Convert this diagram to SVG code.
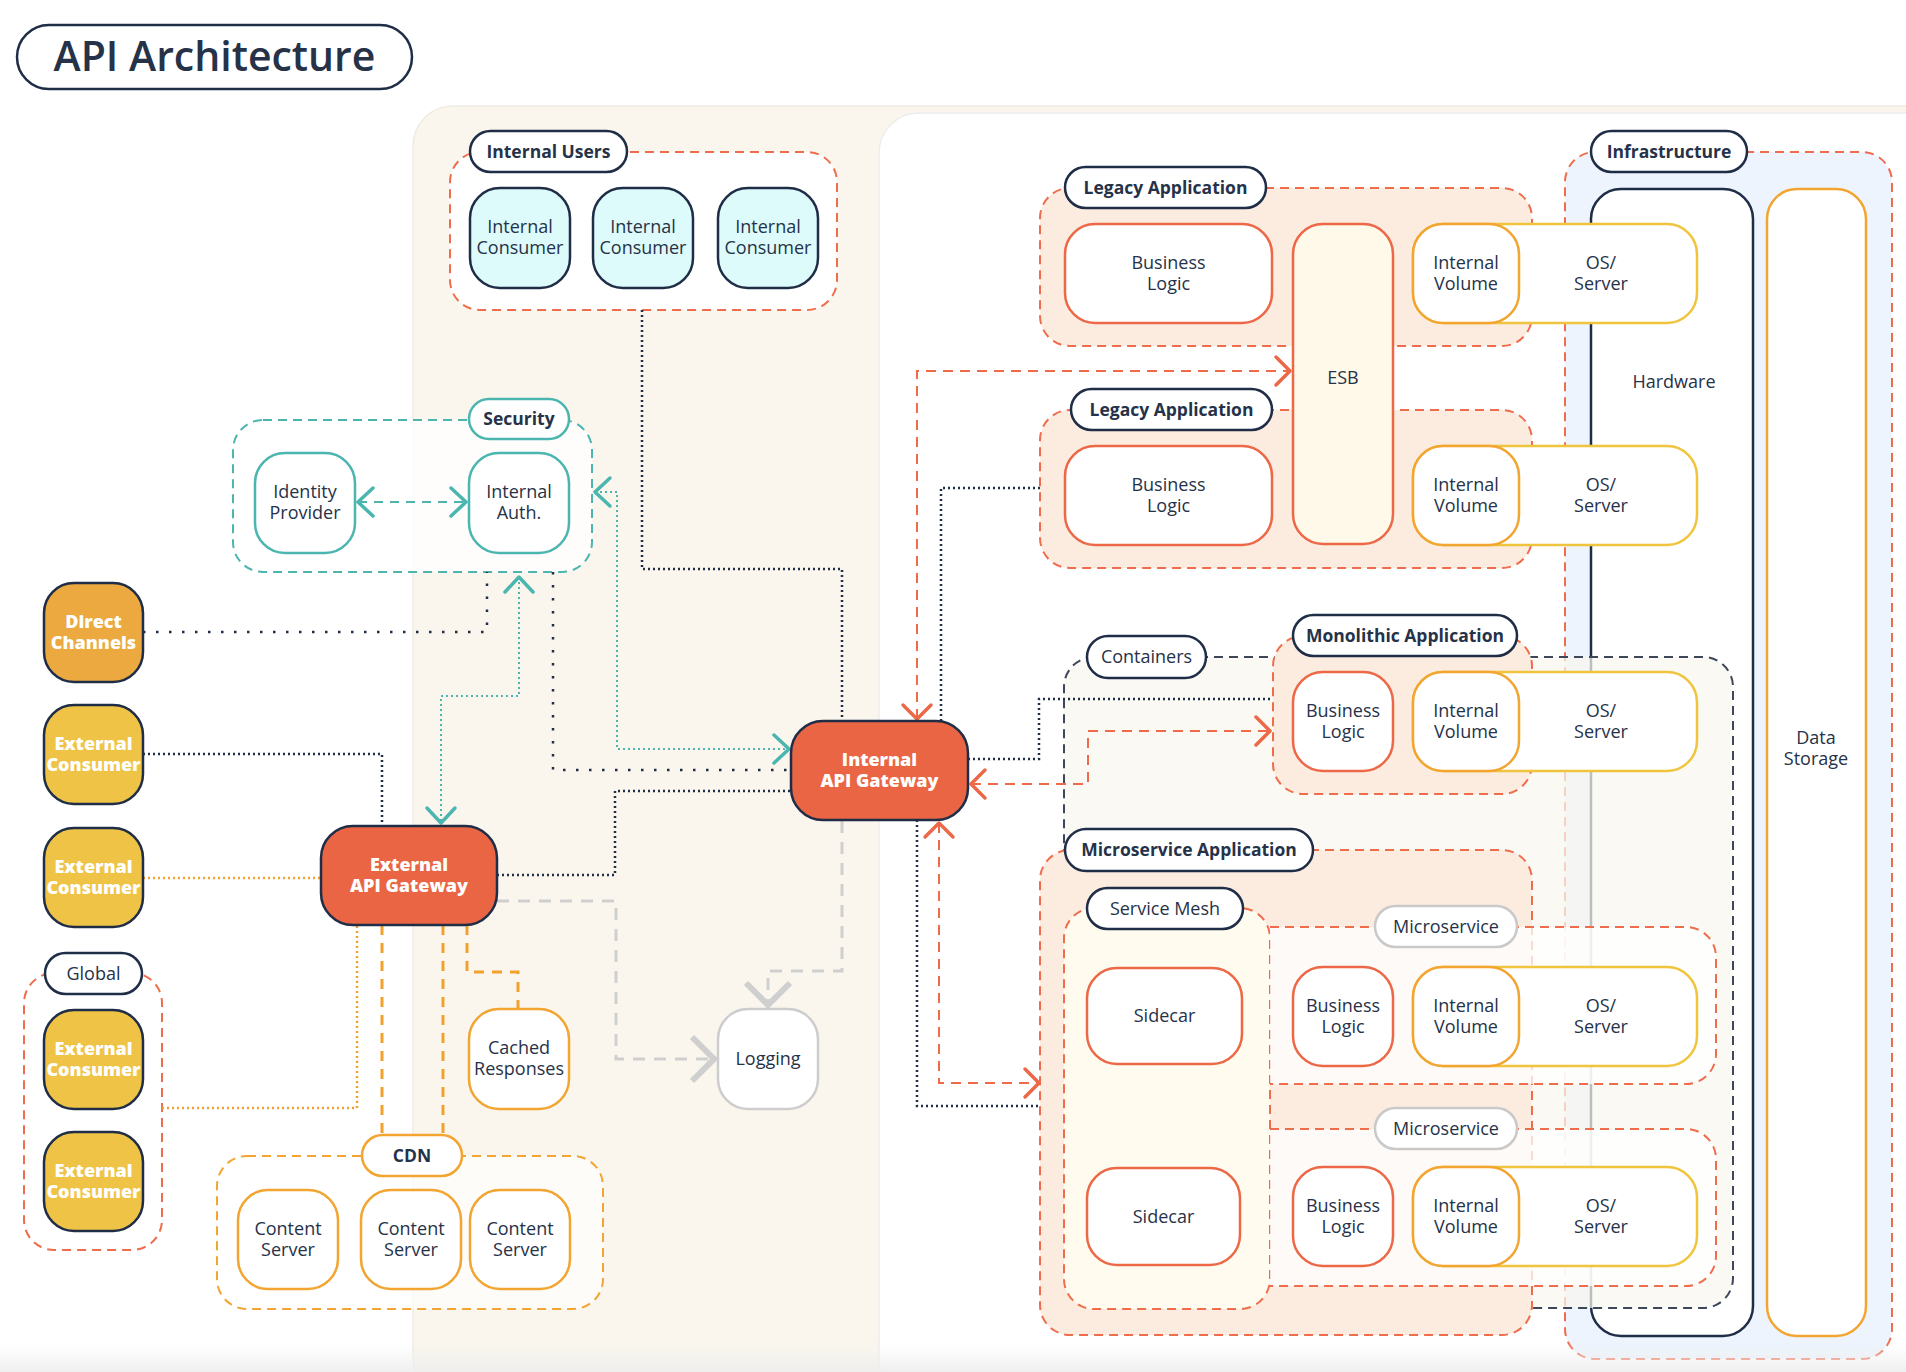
<svg xmlns="http://www.w3.org/2000/svg" width="1906" height="1372" viewBox="0 0 1906 1372">
<defs>
<style>
.t{font-family:"Open Sans","Noto Sans","DejaVu Sans",sans-serif;font-size:18px;fill:#263248;text-anchor:middle}
.b{font-weight:700;font-size:17.5px}
.w{fill:#ffffff;font-weight:800}
.pill{fill:#ffffff;stroke:#1F2D47;stroke-width:2.5}
.gr{stroke:#EF6D4C;stroke-width:2;stroke-dasharray:9 6}
.peach{fill:#FCEBDF}
.n{stroke-width:2.5}
.navy{stroke:#1F2D47}
.teal{stroke:#4BB5B0}
.red{stroke:#EC6847}
.org{stroke:#F2A531}
.yel{stroke:#F0C43C}
.gry{stroke:#CDCDCD}
.cd{fill:none;stroke:#1F2D47;stroke-width:2.5;stroke-dasharray:2 3}
.cs{fill:none;stroke:#1F2D47;stroke-width:2.5;stroke-dasharray:2.5 10.5}
.ct{fill:none;stroke:#4BB5B0;stroke-width:2;stroke-dasharray:2 3}
.ctd{fill:none;stroke:#4BB5B0;stroke-width:2;stroke-dasharray:9 7}
.co{fill:none;stroke:#F2A12E;stroke-width:2.5;stroke-dasharray:2 3}
.cod{fill:none;stroke:#F2A12E;stroke-width:3;stroke-dasharray:10 8}
.cg{fill:none;stroke:#CFCFCF;stroke-width:3;stroke-dasharray:12 9}
.cr{fill:none;stroke:#EE6A48;stroke-width:2;stroke-dasharray:10 7}
</style>
<marker id="aT" markerUnits="userSpaceOnUse" markerWidth="40" markerHeight="40" viewBox="-20 -20 40 40" refX="0" refY="0" orient="auto-start-reverse" overflow="visible"><path d="M-15,-14 L0,0 L-15,14" fill="none" stroke="#4BB5B0" stroke-width="3.5" stroke-dasharray="none" stroke-linecap="round" stroke-linejoin="round"/></marker>
<marker id="aR" markerUnits="userSpaceOnUse" markerWidth="40" markerHeight="40" viewBox="-20 -20 40 40" refX="0" refY="0" orient="auto-start-reverse" overflow="visible"><path d="M-14,-14 L0,0 L-14,14" fill="none" stroke="#EC6847" stroke-width="3.5" stroke-dasharray="none" stroke-linecap="round" stroke-linejoin="round"/></marker>
<marker id="aG" markerUnits="userSpaceOnUse" markerWidth="60" markerHeight="60" viewBox="-30 -30 60 60" refX="0" refY="0" orient="auto" overflow="visible"><path d="M-24,-22 L-2,0 L-24,22" fill="none" stroke="#CFCFCF" stroke-width="6" stroke-dasharray="none" stroke-linecap="butt" stroke-linejoin="miter"/></marker>
<linearGradient id="fade" x1="0" y1="0" x2="0" y2="1"><stop offset="0" stop-color="#F2F2F2" stop-opacity="0"/><stop offset="1" stop-color="#EDEDED" stop-opacity="0.9"/></linearGradient>
</defs>
<rect x="0" y="0" width="1906" height="1372" fill="#ffffff"/>
<g id="panels">
<rect x="413" y="106" width="1540" height="1290" rx="40" fill="#FAF6ED" stroke="#EFEBE2" stroke-width="1.5"/>
<rect x="879" y="113" width="1070" height="1290" rx="40" fill="#ffffff" stroke="#EDEDED" stroke-width="1.5"/>
</g>
<g id="title">
<rect x="17" y="25" width="395" height="64" rx="32" fill="#ffffff" stroke="#1F2D47" stroke-width="2.5"/>
<text class="t" x="214.5" y="71" style="font-size:41px;font-weight:600">API Architecture</text>
</g>

<!-- group containers -->
<g id="group-internal-users"><rect x="450" y="152" width="387" height="158" rx="30" fill="#ffffff" class="gr"/></g>
<g id="group-security"><rect x="233" y="420" width="359" height="152" rx="30" fill="#ffffff" fill-opacity="0.8" stroke="#4BB5B0" stroke-width="2" stroke-dasharray="9 6"/></g>
<g id="group-global"><rect x="24" y="973" width="138" height="277" rx="30" fill="none" class="gr"/></g>
<g id="group-cdn"><rect x="217" y="1156" width="386" height="153" rx="30" fill="#ffffff" fill-opacity="0.65" stroke="#F2A531" stroke-width="2" stroke-dasharray="9 6"/></g>
<g id="group-infrastructure"><rect x="1565" y="152" width="327" height="1207" rx="30" fill="#EDF4FD" class="gr"/></g>
<g id="hardware"><rect x="1591" y="189" width="162" height="1147" rx="30" fill="#ffffff" class="n navy"/><text class="t" x="1674" y="388">Hardware</text></g>
<g id="data-storage"><rect x="1767" y="189" width="99" height="1147" rx="30" fill="#ffffff" class="n org"/><text class="t" x="1816" y="744">Data</text><text class="t" x="1816" y="765">Storage</text></g>
<g id="group-containers"><rect x="1064" y="657" width="669" height="651" rx="30" fill="#F8F6F0" fill-opacity="0.72" stroke="#3C475A" stroke-width="2" stroke-dasharray="9 6"/></g>
<g id="group-legacy-1"><rect x="1040" y="188" width="492" height="158" rx="30" class="peach gr"/></g>
<g id="group-legacy-2"><rect x="1040" y="410" width="492" height="158" rx="30" class="peach gr"/></g>
<g id="group-monolithic"><rect x="1273" y="636" width="259" height="158" rx="30" class="peach gr"/></g>
<g id="group-microservice-app"><rect x="1040" y="850" width="492" height="485" rx="30" class="peach gr"/></g>
<g id="group-service-mesh"><rect x="1064" y="908" width="206" height="401" rx="30" fill="#FFFBEE" class="gr"/></g>
<g id="group-microservice-1"><path d="M1270,927 H1686 A30,30 0 0 1 1716,957 V1054 A30,30 0 0 1 1686,1084 H1270" fill="#ffffff" fill-opacity="0.75" class="gr"/></g>
<g id="group-microservice-2"><path d="M1270,1129 H1686 A30,30 0 0 1 1716,1159 V1256 A30,30 0 0 1 1686,1286 H1270" fill="#ffffff" fill-opacity="0.75" class="gr"/></g>

<!-- connectors -->
<g id="connectors">
<path class="cd" d="M642,310 V569 H842 V721"/>
<path class="cs" d="M143,632 H487 V572"/>
<path class="ct" d="M519,577 V696 H441 V823" marker-start="url(#aT)" marker-end="url(#aT)"/>
<path class="ct" d="M595,492 H617 V749 H789" marker-start="url(#aT)" marker-end="url(#aT)"/>
<path class="ctd" d="M358,502 H466" marker-start="url(#aT)" marker-end="url(#aT)"/>
<path class="cs" d="M553,572 V770 H791"/>
<path class="cd" d="M143,754 H382 V826"/>
<path class="co" d="M143,878 H321"/>
<path class="co" d="M162,1108 H357 V925"/>
<path class="cod" d="M382,925 V1135"/>
<path class="cod" d="M443,925 V1135"/>
<path class="cod" d="M467,925 V972 H518 V1009"/>
<path class="cg" d="M497,901 H616 V1059 H716" marker-end="url(#aG)"/>
<path class="cg" d="M842,821 V971 H768 V1007" marker-end="url(#aG)"/>
<path class="cd" d="M497,875 H615 V791 H791"/>
<path class="cr" d="M917,719 V371 H1290" marker-start="url(#aR)" marker-end="url(#aR)"/>
<path class="cd" d="M941,721 V488 H1040"/>
<path class="cd" d="M968,759 H1039 V699 H1273"/>
<path class="cr" d="M971,784 H1088 V731 H1270" marker-start="url(#aR)" marker-end="url(#aR)"/>
<path class="cr" d="M939,823 V1083 H1039" marker-start="url(#aR)" marker-end="url(#aR)"/>
<path class="cd" d="M917,820 V1106 H1040"/>
</g>

<!-- pills (group labels) -->
<g id="label-internal-users"><rect x="470" y="131" width="157" height="41" rx="20.5" class="pill"/><text class="t b" x="548.5" y="157.5">Internal Users</text></g>
<g id="label-security"><rect x="469" y="399" width="100" height="40" rx="20" class="pill" style="stroke:#4BB5B0"/><text class="t b" x="519" y="425">Security</text></g>
<g id="label-global"><rect x="45" y="953" width="97" height="41" rx="20.5" class="pill"/><text class="t" x="93.5" y="980">Global</text></g>
<g id="label-cdn"><rect x="362" y="1135" width="100" height="41" rx="20.5" class="pill" style="stroke:#F2A531"/><text class="t b" x="412" y="1161.5">CDN</text></g>
<g id="label-legacy-1"><rect x="1065" y="167" width="201" height="41" rx="20.5" class="pill"/><text class="t b" x="1165.5" y="193.5">Legacy Application</text></g>
<g id="label-legacy-2"><rect x="1071" y="389" width="201" height="41" rx="20.5" class="pill"/><text class="t b" x="1171.5" y="415.5">Legacy Application</text></g>
<g id="label-infrastructure"><rect x="1591" y="131" width="156" height="41" rx="20.5" class="pill"/><text class="t b" x="1669" y="157.5">Infrastructure</text></g>
<g id="label-containers"><rect x="1087" y="636" width="119" height="42" rx="21" class="pill"/><text class="t" x="1146.5" y="663">Containers</text></g>
<g id="label-monolithic"><rect x="1293" y="615" width="224" height="41" rx="20.5" class="pill"/><text class="t b" x="1405" y="641.5">Monolithic Application</text></g>
<g id="label-microservice-app"><rect x="1065" y="829" width="248" height="42" rx="21" class="pill"/><text class="t b" x="1189" y="856">Microservice Application</text></g>
<g id="label-service-mesh"><rect x="1087" y="888" width="156" height="41" rx="20.5" class="pill"/><text class="t" x="1165" y="914.5">Service Mesh</text></g>
<g id="label-microservice-1"><rect x="1375" y="906" width="142" height="41" rx="20.5" class="pill" style="stroke:#C9C9C9"/><text class="t" x="1446" y="932.5">Microservice</text></g>
<g id="label-microservice-2"><rect x="1375" y="1108" width="142" height="41" rx="20.5" class="pill" style="stroke:#C9C9C9"/><text class="t" x="1446" y="1134.5">Microservice</text></g>

<!-- nodes -->
<g id="internal-consumer-1"><rect x="470" y="188" width="100" height="100" rx="30" fill="#DDFBFB" class="n navy"/><text class="t" x="520" y="233">Internal</text><text class="t" x="520" y="254">Consumer</text></g>
<g id="internal-consumer-2"><rect x="593" y="188" width="100" height="100" rx="30" fill="#DDFBFB" class="n navy"/><text class="t" x="643" y="233">Internal</text><text class="t" x="643" y="254">Consumer</text></g>
<g id="internal-consumer-3"><rect x="718" y="188" width="100" height="100" rx="30" fill="#DDFBFB" class="n navy"/><text class="t" x="768" y="233">Internal</text><text class="t" x="768" y="254">Consumer</text></g>
<g id="identity-provider"><rect x="255" y="453" width="100" height="100" rx="30" fill="#ffffff" class="n teal"/><text class="t" x="305" y="498">Identity</text><text class="t" x="305" y="519">Provider</text></g>
<g id="internal-auth"><rect x="469" y="453" width="100" height="100" rx="30" fill="#ffffff" class="n teal"/><text class="t" x="519" y="498">Internal</text><text class="t" x="519" y="519">Auth.</text></g>
<g id="direct-channels"><rect x="44" y="583" width="99" height="99" rx="30" fill="#EBA93F" class="n navy"/><text class="t w" x="93.5" y="628">Direct</text><text class="t w" x="93.5" y="649">Channels</text></g>
<g id="external-consumer-1"><rect x="44" y="705" width="99" height="99" rx="30" fill="#EFC446" class="n navy"/><text class="t w" x="93.5" y="750">External</text><text class="t w" x="93.5" y="771">Consumer</text></g>
<g id="external-consumer-2"><rect x="44" y="828" width="99" height="99" rx="30" fill="#EFC446" class="n navy"/><text class="t w" x="93.5" y="873">External</text><text class="t w" x="93.5" y="894">Consumer</text></g>
<g id="external-consumer-3"><rect x="44" y="1010" width="99" height="99" rx="30" fill="#EFC446" class="n navy"/><text class="t w" x="93.5" y="1055">External</text><text class="t w" x="93.5" y="1076">Consumer</text></g>
<g id="external-consumer-4"><rect x="44" y="1132" width="99" height="99" rx="30" fill="#EFC446" class="n navy"/><text class="t w" x="93.5" y="1177">External</text><text class="t w" x="93.5" y="1198">Consumer</text></g>
<g id="external-api-gateway"><rect x="321" y="826" width="176" height="99" rx="32" fill="#EA6543" class="n navy"/><text class="t w" x="409" y="871">External</text><text class="t w" x="409" y="892">API Gateway</text></g>
<g id="internal-api-gateway"><rect x="791" y="721" width="177" height="99" rx="32" fill="#EA6543" class="n navy"/><text class="t w" x="879.5" y="766">Internal</text><text class="t w" x="879.5" y="787">API Gateway</text></g>
<g id="cached-responses"><rect x="469" y="1009" width="100" height="100" rx="30" fill="#ffffff" class="n org"/><text class="t" x="519" y="1054">Cached</text><text class="t" x="519" y="1075">Responses</text></g>
<g id="logging"><rect x="718" y="1009" width="100" height="100" rx="30" fill="#ffffff" class="n gry"/><text class="t" x="768" y="1065">Logging</text></g>
<g id="content-server-1"><rect x="238" y="1190" width="100" height="99" rx="30" fill="#ffffff" class="n org"/><text class="t" x="288" y="1235">Content</text><text class="t" x="288" y="1256">Server</text></g>
<g id="content-server-2"><rect x="361" y="1190" width="100" height="99" rx="30" fill="#ffffff" class="n org"/><text class="t" x="411" y="1235">Content</text><text class="t" x="411" y="1256">Server</text></g>
<g id="content-server-3"><rect x="470" y="1190" width="100" height="99" rx="30" fill="#ffffff" class="n org"/><text class="t" x="520" y="1235">Content</text><text class="t" x="520" y="1256">Server</text></g>

<g id="legacy-1-business-logic"><rect x="1065" y="224" width="207" height="99" rx="30" fill="#ffffff" class="n red"/><text class="t" x="1168.5" y="269">Business</text><text class="t" x="1168.5" y="290">Logic</text></g>
<g id="esb"><rect x="1293" y="224" width="100" height="320" rx="30" fill="#FFF9EA" class="n red"/><text class="t" x="1343" y="384">ESB</text></g>
<g id="legacy-1-os-server"><rect x="1413" y="224" width="284" height="99" rx="30" fill="#ffffff" class="n yel"/><text class="t" x="1601" y="269">OS/</text><text class="t" x="1601" y="290">Server</text></g>
<g id="legacy-1-internal-volume"><rect x="1413" y="224" width="106" height="99" rx="30" fill="#ffffff" class="n org"/><text class="t" x="1466" y="269">Internal</text><text class="t" x="1466" y="290">Volume</text></g>

<g id="legacy-2-business-logic"><rect x="1065" y="446" width="207" height="99" rx="30" fill="#ffffff" class="n red"/><text class="t" x="1168.5" y="491">Business</text><text class="t" x="1168.5" y="512">Logic</text></g>
<g id="legacy-2-os-server"><rect x="1413" y="446" width="284" height="99" rx="30" fill="#ffffff" class="n yel"/><text class="t" x="1601" y="491">OS/</text><text class="t" x="1601" y="512">Server</text></g>
<g id="legacy-2-internal-volume"><rect x="1413" y="446" width="106" height="99" rx="30" fill="#ffffff" class="n org"/><text class="t" x="1466" y="491">Internal</text><text class="t" x="1466" y="512">Volume</text></g>

<g id="mono-business-logic"><rect x="1293" y="672" width="100" height="99" rx="30" fill="#ffffff" class="n red"/><text class="t" x="1343" y="717">Business</text><text class="t" x="1343" y="738">Logic</text></g>
<g id="mono-os-server"><rect x="1413" y="672" width="284" height="99" rx="30" fill="#ffffff" class="n yel"/><text class="t" x="1601" y="717">OS/</text><text class="t" x="1601" y="738">Server</text></g>
<g id="mono-internal-volume"><rect x="1413" y="672" width="106" height="99" rx="30" fill="#ffffff" class="n org"/><text class="t" x="1466" y="717">Internal</text><text class="t" x="1466" y="738">Volume</text></g>

<g id="sidecar-1"><rect x="1087" y="968" width="155" height="96" rx="30" fill="#ffffff" class="n red"/><text class="t" x="1164.5" y="1022">Sidecar</text></g>
<g id="sidecar-2"><rect x="1087" y="1168" width="153" height="97" rx="30" fill="#ffffff" class="n red"/><text class="t" x="1163.5" y="1223">Sidecar</text></g>

<g id="ms1-business-logic"><rect x="1293" y="967" width="100" height="99" rx="30" fill="#ffffff" class="n red"/><text class="t" x="1343" y="1012">Business</text><text class="t" x="1343" y="1033">Logic</text></g>
<g id="ms1-os-server"><rect x="1413" y="967" width="284" height="99" rx="30" fill="#ffffff" class="n yel"/><text class="t" x="1601" y="1012">OS/</text><text class="t" x="1601" y="1033">Server</text></g>
<g id="ms1-internal-volume"><rect x="1413" y="967" width="106" height="99" rx="30" fill="#ffffff" class="n org"/><text class="t" x="1466" y="1012">Internal</text><text class="t" x="1466" y="1033">Volume</text></g>

<g id="ms2-business-logic"><rect x="1293" y="1167" width="100" height="99" rx="30" fill="#ffffff" class="n red"/><text class="t" x="1343" y="1212">Business</text><text class="t" x="1343" y="1233">Logic</text></g>
<g id="ms2-os-server"><rect x="1413" y="1167" width="284" height="99" rx="30" fill="#ffffff" class="n yel"/><text class="t" x="1601" y="1212">OS/</text><text class="t" x="1601" y="1233">Server</text></g>
<g id="ms2-internal-volume"><rect x="1413" y="1167" width="106" height="99" rx="30" fill="#ffffff" class="n org"/><text class="t" x="1466" y="1212">Internal</text><text class="t" x="1466" y="1233">Volume</text></g>

<rect x="0" y="1342" width="1906" height="30" fill="url(#fade)"/>
</svg>
